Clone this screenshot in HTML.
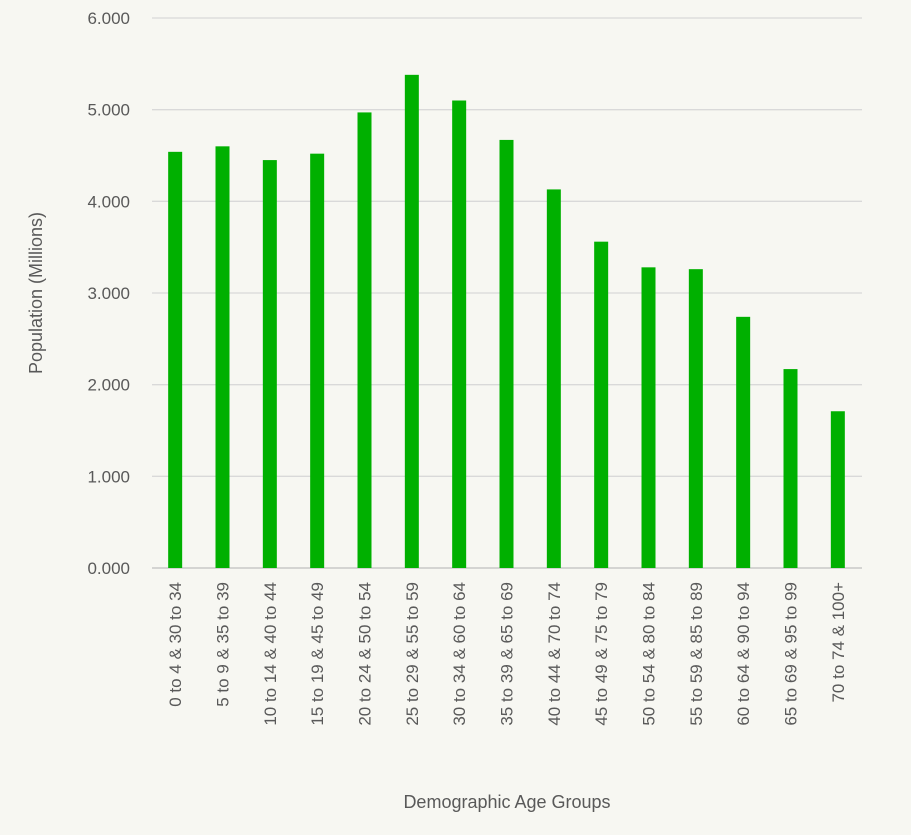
<!DOCTYPE html>
<html><head><meta charset="utf-8"><style>
html,body{margin:0;padding:0;background:#f7f7f2;}
svg{display:block;font-family:"Liberation Sans",sans-serif;}
</style></head><body>
<svg id="chart" width="911" height="835">
<rect width="911" height="835" fill="#f7f7f2"/>
<g id="grid"></g><g id="bars"></g><g id="xlabels"></g><g id="ylabels"></g>
<text x="42" y="293" transform="rotate(-90 42 293)" text-anchor="middle" font-size="18" fill="#595959">Population (Millions)</text>
<text x="507" y="808" text-anchor="middle" font-size="18" fill="#595959">Demographic Age Groups</text>
</svg>
<script>
const categories=["0 to 4 & 30 to 34","5 to 9 & 35 to 39","10 to 14 & 40 to 44","15 to 19 & 45 to 49","20 to 24 & 50 to 54","25 to 29 & 55 to 59","30 to 34 & 60 to 64","35 to 39 & 65 to 69","40 to 44 & 70 to 74","45 to 49 & 75 to 79","50 to 54 & 80 to 84","55 to 59 & 85 to 89","60 to 64 & 90 to 94","65 to 69 & 95 to 99","70 to 74 & 100+"];
const values=[4.54,4.60,4.45,4.52,4.97,5.38,5.10,4.67,4.13,3.56,3.28,3.26,2.74,2.17,1.71];
const yTicks=[0,1,2,3,4,5,6];
const yTickLabels=["0.000","1.000","2.000","3.000","4.000","5.000","6.000"];
const NS="http://www.w3.org/2000/svg";
const x0=152,x1=862,y0=568,yTop=18,yMax=6;
const y=v=>y0-(v/yMax)*(y0-yTop);
const step=(x1-x0)/categories.length;
const xc=i=>x0+step*(i+0.5)-0.5;
function mk(tag,attrs,parent){const e=document.createElementNS(NS,tag);for(const k in attrs)e.setAttribute(k,attrs[k]);parent.appendChild(e);return e;}
const grid=document.getElementById('grid'),yl=document.getElementById('ylabels');
yTicks.forEach((t,i)=>{
 const l=mk('line',{x1:x0,x2:x1,y1:y(t),y2:y(t),stroke:t===0?'#bfbfbf':'#d9d9d9','stroke-width':1.3},grid);
 
 
 const tx=mk('text',{x:130,y:y(t)+6,'text-anchor':'end','font-size':17,fill:'#595959'},yl);
 tx.textContent=yTickLabels[i];
 
 
});
const bars=document.getElementById('bars'),xl=document.getElementById('xlabels');
categories.forEach((c,i)=>{
 const b=mk('rect',{x:xc(i)-7,y:y(values[i]),width:14,height:y0-y(values[i]),fill:'#00b000'},bars);
 
 
 const cx=xc(i)+6,cy=582;
 const t=mk('text',{x:cx,y:cy,transform:`rotate(-90 ${cx} ${cy})`,'text-anchor':'end','font-size':17,fill:'#595959'},xl);
 t.textContent=c;
 
 
});
</script>
</body></html>
